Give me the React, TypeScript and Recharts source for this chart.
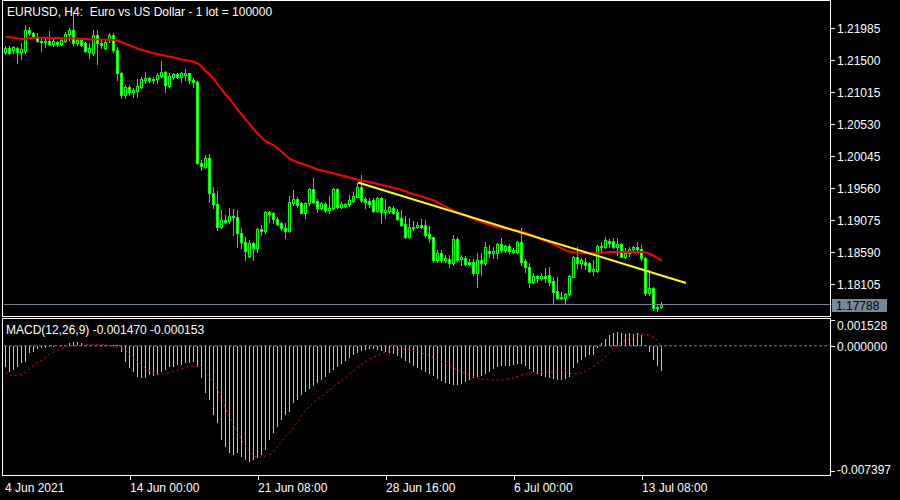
import React from 'react';
import { ComposedChart, Bar, Line, XAxis, YAxis, ReferenceLine } from 'recharts';

const FONT = "'Liberation Sans', Arial, Helvetica, sans-serif";

const TITLE = 'EURUSD, H4:  Euro vs US Dollar - 1 lot = 100000';
const MACD_TITLE = 'MACD(12,26,9) -0.001470 -0.000153';

const OPEN = [
  1.21617, 1.21677, 1.21647, 1.21682, 1.21621, 1.21636, 1.2195, 1.219, 1.2184, 1.21788,
  1.21764, 1.21783, 1.21733, 1.21773, 1.21738, 1.21788, 1.2189, 1.2195, 1.21749, 1.21799,
  1.21749, 1.21621, 1.21597, 1.21874, 1.21749, 1.21673, 1.21809, 1.21874, 1.21647, 1.21294,
  1.20965, 1.21082, 1.2101, 1.2103, 1.21091, 1.21192, 1.21218, 1.21192, 1.21203, 1.21257,
  1.21318, 1.21106, 1.21233, 1.21283, 1.21233, 1.21268, 1.21294, 1.21192, 1.21166, 1.19938,
  1.19878, 1.20005, 1.19475, 1.19308, 1.18959, 1.1907, 1.19059, 1.19131, 1.1912, 1.18868,
  1.18732, 1.18529, 1.18717, 1.18641, 1.18929, 1.18908, 1.19196, 1.19181, 1.1908, 1.1902,
  1.18944, 1.18903, 1.19332, 1.19384, 1.19323, 1.19181, 1.19323, 1.1954, 1.19358, 1.19247,
  1.19312, 1.19222, 1.19247, 1.1954, 1.19262, 1.19287, 1.19308, 1.19362, 1.19423, 1.19575,
  1.19384, 1.19362, 1.19373, 1.19211, 1.19399, 1.19196, 1.19211, 1.19256, 1.19196, 1.19096,
  1.19009, 1.18817, 1.18944, 1.18959, 1.18994, 1.18994, 1.18853, 1.18807, 1.18463, 1.18574,
  1.18463, 1.18474, 1.18422, 1.18777, 1.18474, 1.18489, 1.18433, 1.18438, 1.18262, 1.18463,
  1.18422, 1.186, 1.1857, 1.18574, 1.18706, 1.18615, 1.18676, 1.18589, 1.18589, 1.18739,
  1.18453, 1.18353, 1.18134, 1.18221, 1.18186, 1.18221, 1.18236, 1.1815, 1.17998, 1.17883,
  1.17883, 1.17948, 1.18211, 1.18513, 1.18413, 1.18438, 1.18413, 1.18301, 1.18301, 1.18676,
  1.18665, 1.18756, 1.18756, 1.18665, 1.18706, 1.18513, 1.18565, 1.18626, 1.18656, 1.18626,
  1.18489, 1.17968, 1.18034, 1.17731, 1.17755,
];

const HIGH = [
  1.21708, 1.21708, 1.21712, 1.21697, 1.21749, 1.22026, 1.21991, 1.21924, 1.21909, 1.21849,
  1.21824, 1.21935, 1.21809, 1.21788, 1.21824, 1.21924, 1.21976, 1.22223, 1.21824, 1.21809,
  1.21773, 1.21749, 1.2195, 1.2195, 1.21799, 1.21799, 1.21909, 1.219, 1.21688, 1.21318,
  1.21116, 1.21116, 1.21066, 1.21203, 1.21242, 1.21309, 1.21242, 1.21242, 1.21294, 1.2148,
  1.21333, 1.21294, 1.21303, 1.21303, 1.21309, 1.21354, 1.21303, 1.21218, 1.21177, 1.19979,
  1.20055, 1.20066, 1.19575, 1.19509, 1.19222, 1.19146, 1.19247, 1.19232, 1.19222, 1.18944,
  1.18817, 1.18767, 1.18739, 1.18944, 1.18994, 1.19211, 1.19211, 1.19196, 1.1912, 1.19044,
  1.1902, 1.19434, 1.19525, 1.19418, 1.19347, 1.19347, 1.1955, 1.19702, 1.19384, 1.19343,
  1.19338, 1.19434, 1.1955, 1.1955, 1.19347, 1.19332, 1.19449, 1.19499, 1.19635, 1.19752,
  1.19414, 1.19399, 1.19399, 1.19414, 1.19423, 1.19384, 1.19287, 1.19282, 1.19232, 1.19222,
  1.19131, 1.19096, 1.19055, 1.19044, 1.1908, 1.1907, 1.18979, 1.18817, 1.18615, 1.18615,
  1.18539, 1.18539, 1.18842, 1.18817, 1.18539, 1.18524, 1.18474, 1.18474, 1.18574, 1.18565,
  1.18739, 1.18691, 1.18665, 1.18717, 1.18792, 1.18691, 1.18706, 1.18641, 1.18756, 1.18944,
  1.18474, 1.18413, 1.18262, 1.18236, 1.18262, 1.18338, 1.18362, 1.18201, 1.18211, 1.17983,
  1.17968, 1.18236, 1.18524, 1.18665, 1.18489, 1.18489, 1.18438, 1.18463, 1.18691, 1.18739,
  1.18817, 1.18777, 1.18792, 1.18792, 1.18726, 1.18641, 1.18656, 1.18676, 1.18739, 1.18691,
  1.18504, 1.18312, 1.18059, 1.17781, 1.17831,
];

const LOW = [
  1.21586, 1.21586, 1.21597, 1.21445, 1.21506, 1.21606, 1.21874, 1.21824, 1.21768, 1.21636,
  1.21697, 1.21723, 1.21708, 1.21712, 1.21723, 1.21773, 1.21799, 1.21723, 1.21723, 1.21708,
  1.21621, 1.21521, 1.21571, 1.2143, 1.21673, 1.21662, 1.21773, 1.21621, 1.21192, 1.20915,
  1.20915, 1.20965, 1.20939, 1.20939, 1.21076, 1.21152, 1.21166, 1.21142, 1.21142, 1.21233,
  1.21015, 1.21091, 1.21207, 1.21218, 1.21166, 1.21192, 1.21142, 1.21091, 1.19919, 1.19828,
  1.19854, 1.19347, 1.19247, 1.18918, 1.18944, 1.1902, 1.1902, 1.18842, 1.18665, 1.18641,
  1.18463, 1.18513, 1.18463, 1.18589, 1.18842, 1.18877, 1.19044, 1.1902, 1.18994, 1.18918,
  1.18802, 1.18892, 1.19297, 1.19267, 1.19171, 1.19105, 1.19297, 1.19323, 1.19196, 1.19229,
  1.19196, 1.19171, 1.19237, 1.19247, 1.19247, 1.19262, 1.19287, 1.19347, 1.19414, 1.19347,
  1.19256, 1.19271, 1.19196, 1.19196, 1.1902, 1.19096, 1.19181, 1.19161, 1.1907, 1.18979,
  1.18792, 1.18792, 1.18918, 1.18944, 1.18944, 1.18817, 1.18739, 1.18438, 1.18438, 1.18438,
  1.18428, 1.18362, 1.18388, 1.18453, 1.18388, 1.18388, 1.18388, 1.18236, 1.18059, 1.18236,
  1.18388, 1.18513, 1.18489, 1.18489, 1.18589, 1.18589, 1.18574, 1.18565, 1.18565, 1.18388,
  1.18286, 1.18059, 1.1811, 1.18134, 1.18161, 1.18134, 1.18084, 1.17807, 1.17872, 1.17872,
  1.17816, 1.17933, 1.18201, 1.18338, 1.18338, 1.18322, 1.18286, 1.18236, 1.18286, 1.18565,
  1.18641, 1.18665, 1.18641, 1.18539, 1.18504, 1.18489, 1.18524, 1.18589, 1.18604, 1.18463,
  1.17933, 1.17933, 1.17705, 1.17695, 1.17731,
];

const CLOSE = [
  1.21677, 1.21602, 1.21697, 1.21621, 1.21658, 1.2195, 1.219, 1.21849, 1.21788, 1.21764,
  1.21783, 1.21733, 1.21783, 1.21733, 1.21799, 1.2189, 1.2195, 1.21749, 1.21799, 1.21723,
  1.21636, 1.21673, 1.21874, 1.21749, 1.21723, 1.21773, 1.21874, 1.21647, 1.21294, 1.20965,
  1.21082, 1.2101, 1.21041, 1.21101, 1.21203, 1.21218, 1.21192, 1.21212, 1.21268, 1.21309,
  1.21116, 1.21253, 1.21283, 1.21233, 1.21294, 1.21303, 1.21192, 1.21166, 1.19938, 1.19888,
  1.20005, 1.19475, 1.19312, 1.18959, 1.1907, 1.19044, 1.19131, 1.1912, 1.18868, 1.18732,
  1.18604, 1.18717, 1.18641, 1.18929, 1.18908, 1.19196, 1.19161, 1.1908, 1.19009, 1.18944,
  1.18908, 1.19338, 1.19384, 1.19297, 1.19181, 1.19323, 1.1954, 1.19347, 1.19247, 1.19323,
  1.19222, 1.19247, 1.1954, 1.19271, 1.19312, 1.19312, 1.19373, 1.19434, 1.19575, 1.19373,
  1.19338, 1.19312, 1.19211, 1.19399, 1.19196, 1.19222, 1.19271, 1.19181, 1.19085, 1.18994,
  1.18817, 1.18959, 1.18968, 1.18994, 1.18968, 1.18842, 1.18802, 1.18463, 1.18565, 1.18463,
  1.18489, 1.18413, 1.18777, 1.18463, 1.18504, 1.18403, 1.18407, 1.18262, 1.18463, 1.18422,
  1.18656, 1.18565, 1.186, 1.18706, 1.18615, 1.18676, 1.186, 1.18615, 1.18739, 1.18438,
  1.18353, 1.18134, 1.18221, 1.18186, 1.18221, 1.18186, 1.18134, 1.17983, 1.17883, 1.17898,
  1.17948, 1.18221, 1.18513, 1.18413, 1.18463, 1.18388, 1.18301, 1.18322, 1.18676, 1.18656,
  1.18767, 1.18726, 1.18665, 1.18706, 1.18513, 1.18574, 1.18626, 1.18656, 1.18626, 1.18489,
  1.17968, 1.18034, 1.17731, 1.17755, 1.17788,
];

const MOVING_AVG = [
  1.21847, 1.2184, 1.21832, 1.21821, 1.21814, 1.21818, 1.21829, 1.21834, 1.21834, 1.21834,
  1.21832, 1.2183, 1.21829, 1.21829, 1.21826, 1.21824, 1.21824, 1.21821, 1.21818, 1.21815,
  1.21812, 1.21809, 1.21808, 1.21806, 1.21805, 1.21803, 1.21802, 1.21799, 1.21791, 1.21761,
  1.21738, 1.21718, 1.21693, 1.21667, 1.21647, 1.21632, 1.21612, 1.21597, 1.21582, 1.21571,
  1.21556, 1.21544, 1.21533, 1.21518, 1.21503, 1.21491, 1.2148, 1.2147, 1.21442, 1.21389,
  1.21321, 1.21268, 1.21207, 1.21116, 1.21041, 1.20965, 1.20897, 1.20813, 1.20737, 1.20662,
  1.20586, 1.20518, 1.20442, 1.20374, 1.20313, 1.2026, 1.2023, 1.20199, 1.20154, 1.20101,
  1.2004, 1.19995, 1.19964, 1.19942, 1.19926, 1.19904, 1.19881, 1.19858, 1.19835, 1.1982,
  1.19805, 1.1979, 1.19775, 1.1976, 1.19744, 1.19729, 1.19714, 1.19694, 1.19679, 1.19669,
  1.19657, 1.19646, 1.19631, 1.19616, 1.196, 1.19585, 1.1957, 1.19555, 1.19544, 1.19525,
  1.19502, 1.19479, 1.19459, 1.19444, 1.19426, 1.19403, 1.19384, 1.19365, 1.19335, 1.19297,
  1.19267, 1.19237, 1.19206, 1.19184, 1.19161, 1.19138, 1.19108, 1.19085, 1.19062, 1.1904,
  1.19017, 1.18994, 1.18979, 1.18964, 1.18949, 1.18938, 1.18929, 1.18918, 1.18908, 1.18892,
  1.18873, 1.1885, 1.18827, 1.18802, 1.18774, 1.18751, 1.18726, 1.18698, 1.18668, 1.18638,
  1.18607, 1.18589, 1.1858, 1.1857, 1.18565, 1.18565, 1.18565, 1.18565, 1.18565, 1.1857,
  1.18577, 1.18585, 1.18585, 1.18585, 1.18585, 1.18585, 1.18585, 1.18585, 1.18585, 1.18585,
  1.18577, 1.18554, 1.18524, 1.18489, 1.18453,
];

const MACD_MAIN = [
  -0.001232, -0.001528, -0.001427, -0.001232, -0.001031, -0.000937, -0.00044, -0.000346, -0.000204, -0.000145,
  -0.000145, -0.00005, -0.00005, -0.000009, 0.00005, 0.00005, 0.000139, 0.000198, 0.000228, 0.000168,
  0.000021, -0.000009, -0.000038, -0.000009, 0.000021, 0.000021, -0.000009, 0.000021, 0.00005, -0.000346,
  -0.000937, -0.001327, -0.001528, -0.001823, -0.001918, -0.001882, -0.001723, -0.001782, -0.001723, -0.001528,
  -0.001427, -0.001232, -0.001232, -0.001132, -0.001132, -0.001031, -0.000996, -0.000937, -0.001232, -0.001918,
  -0.002804, -0.0032, -0.004087, -0.004577, -0.005564, -0.00596, -0.00635, -0.006451, -0.00635, -0.006551,
  -0.006746, -0.006847, -0.006746, -0.006646, -0.006451, -0.006155, -0.005564, -0.005168, -0.004778, -0.004382,
  -0.004087, -0.003892, -0.003395, -0.0032, -0.002905, -0.002727, -0.00255, -0.002373, -0.002196, -0.002018,
  -0.001841, -0.001605, -0.001427, -0.00125, -0.001073, -0.000895, -0.000718, -0.000541, -0.000423, -0.000304,
  -0.000245, -0.000186, -0.000186, -0.000245, -0.000304, -0.000363, -0.000423, -0.000482, -0.0006, -0.000718,
  -0.000895, -0.001014, -0.001191, -0.001309, -0.001427, -0.001545, -0.001664, -0.001782, -0.001959, -0.002077,
  -0.002196, -0.002255, -0.002314, -0.002314, -0.002255, -0.002136, -0.002018, -0.0019, -0.001841, -0.001782,
  -0.001664, -0.001545, -0.001368, -0.00125, -0.001191, -0.001191, -0.001191, -0.001132, -0.001073, -0.001073,
  -0.001191, -0.001368, -0.001545, -0.001664, -0.001782, -0.001841, -0.0019, -0.001959, -0.002018, -0.002018,
  -0.001977, -0.001823, -0.001327, -0.001031, -0.000836, -0.000641, -0.000541, -0.000541, -0.000145, 0.000151,
  0.000387, 0.000641, 0.000742, 0.000801, 0.000742, 0.0007, 0.000742, 0.0007, 0.000742, 0.000641,
  0.000021, -0.000346, -0.000836, -0.001191, -0.00147,
];

const MACD_SIGNAL = [
  -0.001545, -0.001723, -0.001782, -0.001723, -0.001664, -0.001545, -0.001339, -0.001132, -0.000954, -0.000836,
  -0.000659, -0.000482, -0.000363, -0.000245, -0.000145, -0.000098, -0.000038, 0.000009, 0.000033, 0.00005,
  0.000068, 0.00008, 0.000092, 0.00008, 0.000068, 0.00005, 0.000021, -0.000038, -0.000098, -0.000145,
  -0.000304, -0.000541, -0.000736, -0.000954, -0.001161, -0.001368, -0.001486, -0.001605, -0.001664, -0.001664,
  -0.001634, -0.001575, -0.001516, -0.001427, -0.001339, -0.00125, -0.00122, -0.001191, -0.001191, -0.001309,
  -0.001605, -0.0019, -0.002196, -0.002609, -0.0032, -0.003732, -0.004264, -0.004737, -0.005151, -0.005564,
  -0.005978, -0.006273, -0.00651, -0.006598, -0.006569, -0.00651, -0.006392, -0.006214, -0.005919, -0.005623,
  -0.005328, -0.005091, -0.004796, -0.004441, -0.004087, -0.003791, -0.003555, -0.003318, -0.003141, -0.002964,
  -0.002787, -0.002609, -0.002373, -0.002196, -0.002018, -0.001811, -0.001634, -0.001457, -0.00125, -0.001073,
  -0.000925, -0.000777, -0.000659, -0.000541, -0.000423, -0.000334, -0.000275, -0.000245, -0.000216, -0.000186,
  -0.000186, -0.000216, -0.000275, -0.000334, -0.000423, -0.000511, -0.0006, -0.000718, -0.000836, -0.000954,
  -0.001073, -0.001191, -0.001309, -0.001427, -0.001545, -0.001634, -0.001723, -0.001811, -0.0019, -0.001959,
  -0.001989, -0.002018, -0.002018, -0.002018, -0.002018, -0.001959, -0.00193, -0.001871, -0.001782, -0.001723,
  -0.001664, -0.001605, -0.001575, -0.001545, -0.001545, -0.001545, -0.001545, -0.001516, -0.001486, -0.001427,
  -0.001516, -0.001634, -0.001664, -0.001634, -0.001587, -0.001486, -0.001339, -0.001191, -0.001014, -0.000836,
  -0.0006, -0.000363, -0.000157, 0.000021, 0.000245, 0.000375, 0.000493, 0.000582, 0.000641, 0.000683,
  0.000671, 0.000641, 0.000493, 0.000287, -0.000153,
];

const TREND_INDEX = [88, 170];
const TREND_VALUE = [1.19638, 1.18115];

const PRICE_TICKS = [1.21985, 1.215, 1.21015, 1.2053, 1.20045, 1.1956, 1.19075, 1.1859, 1.18105];
const LAST_PRICE = 1.17788;
const MACD_TICKS = [0.001528, 0, -0.007397];
const TIME_TICK_INDEX = [0, 31, 63, 95, 127, 159];
const TIME_TICK_LABELS = ['4 Jun 2021', '14 Jun 00:00', '21 Jun 08:00', '28 Jun 16:00', '6 Jul 00:00', '13 Jul 08:00'];

const SLOTS = 207;
const PRICE_DOMAIN: [number, number] = [1.17614, 1.2239];
const MACD_DOMAIN: [number, number] = [-0.007693, 0.001646];

const data = Array.from({ length: SLOTS }, (_, i) => {
  const has = i < CLOSE.length;
  const t = TREND_INDEX.indexOf(i);
  return {
    i,
    range: has ? [LOW[i], HIGH[i]] : null,
    open: has ? OPEN[i] : null,
    high: has ? HIGH[i] : null,
    low: has ? LOW[i] : null,
    close: has ? CLOSE[i] : null,
    ma: has ? MOVING_AVG[i] : null,
    trend: t >= 0 ? TREND_VALUE[t] : null,
    macd: has ? MACD_MAIN[i] : null,
    signal: has ? MACD_SIGNAL[i] : null,
  };
});

function Candle(props: any) {
  const { x, y, width, height, payload } = props;
  if (!payload || payload.open == null || y == null || isNaN(y)) return null;
  const { open, close, high, low } = payload;
  const top = Math.min(y, y + height);
  const bot = Math.max(y, y + height);
  const span = high - low;
  const py = (v: number) => (span > 0 ? top + ((high - v) / span) * (bot - top) : top);
  const c = Math.floor(x + width / 2);
  const oy = Math.round(py(open));
  const cy = Math.round(py(close));
  const bTop = Math.min(oy, cy);
  const bBot = Math.max(oy, cy);
  const bull = close >= open;
  return (
    <g shapeRendering="crispEdges">
      <line x1={c + 0.5} x2={c + 0.5} y1={Math.round(top)} y2={Math.round(bot) + 1} stroke="#00ff00" strokeWidth={1} />
      {bBot - bTop < 1 ? (
        <line x1={c - 1} x2={c + 2} y1={bTop + 0.5} y2={bTop + 0.5} stroke="#00ff00" strokeWidth={1} />
      ) : (
        <rect x={c - 0.5} y={bTop + 0.5} width={2} height={bBot - bTop} fill={bull ? '#000000' : '#ffffff'} stroke="#00ff00" strokeWidth={1} />
      )}
    </g>
  );
}

function HistBar(props: any) {
  const { x, y, width, height, payload } = props;
  if (!payload || payload.macd == null || y == null || isNaN(y)) return null;
  const c = Math.floor(x + width / 2);
  const t = Math.min(y, y + height);
  const b = Math.max(y, y + height);
  return <line x1={c + 0.5} x2={c + 0.5} y1={Math.round(t)} y2={Math.round(b)} stroke="#c0c0c0" strokeWidth={1} shapeRendering="crispEdges" />;
}

function PriceTick(props: any) {
  const { x, y, payload } = props;
  const v = payload.value as number;
  const ry = Math.round(y);
  if (v === LAST_PRICE) {
    return (
      <g>
        <rect x={x} y={ry - 6} width={55} height={13} fill="#778899" />
        <text x={x + 4} y={ry + 4.5} fill="#000000" fontSize={12} fontFamily={FONT}>{v.toFixed(5)}</text>
      </g>
    );
  }
  return (
    <g>
      <line x1={x - 2} x2={x + 3} y1={ry + 0.5} y2={ry + 0.5} stroke="#ffffff" shapeRendering="crispEdges" />
      <text x={x + 5} y={ry + 4.5} fill="#ffffff" fontSize={12} fontFamily={FONT}>{v.toFixed(5)}</text>
    </g>
  );
}

function MacdTick(props: any) {
  const { x, y, payload } = props;
  const v = payload.value as number;
  const ry = Math.round(y);
  const textShift = v === MACD_TICKS[0] ? 5 : v === MACD_TICKS[2] ? -1.5 : 0;
  return (
    <g>
      <line x1={x - 2} x2={x + 3} y1={ry + 0.5} y2={ry + 0.5} stroke="#ffffff" shapeRendering="crispEdges" />
      <text x={x + 5} y={ry + 4.5 + textShift} fill="#ffffff" fontSize={12} fontFamily={FONT}>{v.toFixed(6)}</text>
    </g>
  );
}

function TimeTick(props: any) {
  const { x, y, payload } = props;
  const idx = TIME_TICK_INDEX.indexOf(payload.value);
  if (idx < 0) return null;
  const cx = Math.floor(x);
  const first = idx === 0;
  return (
    <g>
      {!first && <line x1={cx + 0.5} x2={cx + 0.5} y1={y} y2={y + 4} stroke="#ffffff" shapeRendering="crispEdges" />}
      <text x={first ? cx - 1 : cx} y={y + 15.5} fill="#ffffff" fontSize={12} fontFamily={FONT}>{TIME_TICK_LABELS[idx]}</text>
    </g>
  );
}

export default function App() {
  return (
    <div style={{ position: 'absolute', left: 0, top: 0, width: 900, height: 500, background: '#000000', overflow: 'hidden' }}>
      <div style={{ position: 'absolute', left: 0, top: 0 }}>
        <ComposedChart width={900} height={316} data={data} margin={{ top: 1, right: 0, bottom: 0, left: 4 }}>
          <XAxis dataKey="i" hide />
          <YAxis
            orientation="right"
            type="number"
            domain={PRICE_DOMAIN}
            allowDataOverflow
            ticks={[...PRICE_TICKS, LAST_PRICE]}
            interval={0}
            tick={<PriceTick />}
            tickLine={false}
            axisLine={false}
            tickSize={0}
            tickMargin={0}
            width={68}
          />
          <ReferenceLine y={LAST_PRICE} stroke="#778899" strokeWidth={1} />
          <Bar dataKey="range" isAnimationActive={false} shape={(p: any) => <Candle {...p} />} />
          <Line dataKey="ma" stroke="#ff0000" strokeWidth={2} dot={false} activeDot={false} isAnimationActive={false} />
          <Line dataKey="trend" stroke="#ffff00" strokeWidth={2} dot={false} activeDot={false} connectNulls isAnimationActive={false} />
        </ComposedChart>
      </div>
      <div style={{ position: 'absolute', left: 0, top: 318 }}>
        <ComposedChart width={900} height={182} data={data} margin={{ top: 0, right: 0, bottom: 0, left: 4 }}>
          <XAxis
            dataKey="i"
            ticks={TIME_TICK_INDEX}
            interval={0}
            tick={<TimeTick />}
            tickLine={false}
            axisLine={false}
            tickSize={0}
            tickMargin={0}
            height={24}
          />
          <YAxis
            orientation="right"
            type="number"
            domain={MACD_DOMAIN}
            allowDataOverflow
            ticks={MACD_TICKS}
            interval={0}
            tick={<MacdTick />}
            tickLine={false}
            axisLine={false}
            tickSize={0}
            tickMargin={0}
            width={68}
          />
          <ReferenceLine y={0} stroke="#778899" strokeWidth={1} strokeDasharray="3 2" />
          <Bar dataKey="macd" isAnimationActive={false} shape={(p: any) => <HistBar {...p} />} />
          <Line dataKey="signal" stroke="#ff0000" strokeWidth={1} strokeDasharray="2 3" dot={false} activeDot={false} isAnimationActive={false} />
        </ComposedChart>
      </div>
      <svg width={900} height={500} style={{ position: 'absolute', left: 0, top: 0, pointerEvents: 'none' }}>
        <rect x={2.5} y={0.5} width={828} height={316} fill="none" stroke="#ffffff" strokeWidth={1} shapeRendering="crispEdges" />
        <rect x={2.5} y={318.5} width={828} height={157} fill="none" stroke="#ffffff" strokeWidth={1} shapeRendering="crispEdges" />
        <text x={7} y={16} fill="#ffffff" fontSize={12} fontFamily={FONT} style={{ whiteSpace: 'pre' }}>{TITLE}</text>
        <text x={6} y={334} fill="#ffffff" fontSize={12} fontFamily={FONT} style={{ whiteSpace: 'pre' }}>{MACD_TITLE}</text>
      </svg>
    </div>
  );
}
